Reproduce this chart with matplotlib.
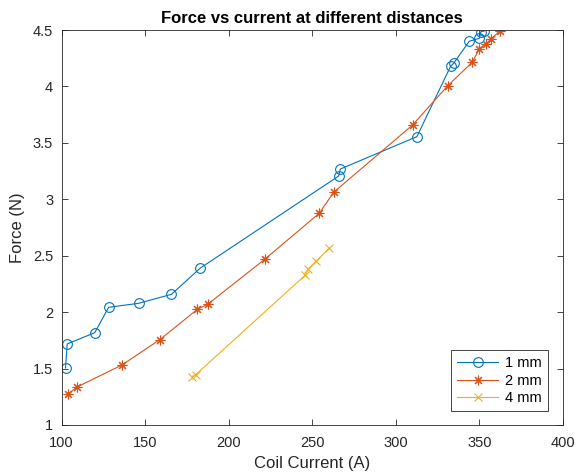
import matplotlib
matplotlib.use("Agg")
import matplotlib.pyplot as plt

plt.rcParams['font.family'] = ['Liberation Sans', 'DejaVu Sans']

i1 = [102.4, 103.4, 119.9, 128.2, 146.1, 165.8, 182.9, 265.8, 266.8, 312.6, 332.8, 334.6, 343.9, 349.9, 350.9, 352.9]
f1 = [1.505, 1.718, 1.818, 2.043, 2.078, 2.158, 2.389, 3.206, 3.268, 3.555, 4.180, 4.205, 4.400, 4.426, 4.485, 4.491]

i2 = [104.0, 109.3, 136.2, 158.8, 181.3, 187.5, 221.8, 254.2, 262.8, 310.0, 331.1, 345.7, 349.9, 353.9, 356.9, 362.4]
f2 = [1.275, 1.337, 1.532, 1.756, 2.025, 2.070, 2.471, 2.876, 3.062, 3.658, 4.007, 4.214, 4.332, 4.376, 4.420, 4.494]

i4 = [177.9, 180.3, 245.9, 247.5, 252.5, 260.1]
f4 = [1.428, 1.446, 2.329, 2.382, 2.453, 2.566]

labels = ['1 mm', '2 mm', '4 mm']
colors = ['#0072BD', '#D95319', '#EDB120']

fig = plt.figure(figsize=(5.79, 4.73), dpi=100)
ax = fig.add_axes([61.5 / 579, 1 - 425 / 473, (563 - 61.5) / 579, (425 - 30) / 473])

ax.plot(i1, f1, '-', marker='o', color=colors[0], mfc='none', ms=7, lw=0.8, mew=0.8, label=labels[0])
ax.plot(i2, f2, '-', marker=(8, 2, 0), color=colors[1], ms=7, lw=0.8, mew=0.8, label=labels[1])
ax.plot(i4, f4, '-', marker='x', color=colors[2], ms=6, lw=0.8, mew=0.8, label=labels[2])

ax.set_xlim(100, 400)
ax.set_ylim(1, 4.5)
ax.set_xticks([100, 150, 200, 250, 300, 350, 400])
ax.set_yticks([1, 1.5, 2, 2.5, 3, 3.5, 4, 4.5])
ax.set_yticklabels(['1', '1.5', '2', '2.5', '3', '3.5', '4', '4.5'])
ax.tick_params(direction='in', top=True, right=True, labelsize=10.5, colors='#262626', length=4, width=0.6)
ax.tick_params(axis='x', pad=8)
ax.tick_params(axis='y', pad=6)
for s in ax.spines.values():
    s.set_color('#262626')
    s.set_linewidth(0.6)

ax.set_xlabel('Coil Current (A)', fontsize=12, color='#262626', labelpad=4)
ax.set_ylabel('Force (N)', fontsize=12, color='#262626', labelpad=6)
ax.set_title('Force vs current at different distances', fontsize=12, fontweight='bold', pad=5)

leg = ax.legend(loc='lower right', bbox_to_anchor=(0.97, 0.035), fontsize=10.5, fancybox=False,
                framealpha=1, edgecolor='#262626', borderaxespad=0, handlelength=2.8, labelspacing=0.25,
                handletextpad=0.5, borderpad=0.4)
leg.get_frame().set_linewidth(0.6)

fig.savefig('out.png', dpi=100)
